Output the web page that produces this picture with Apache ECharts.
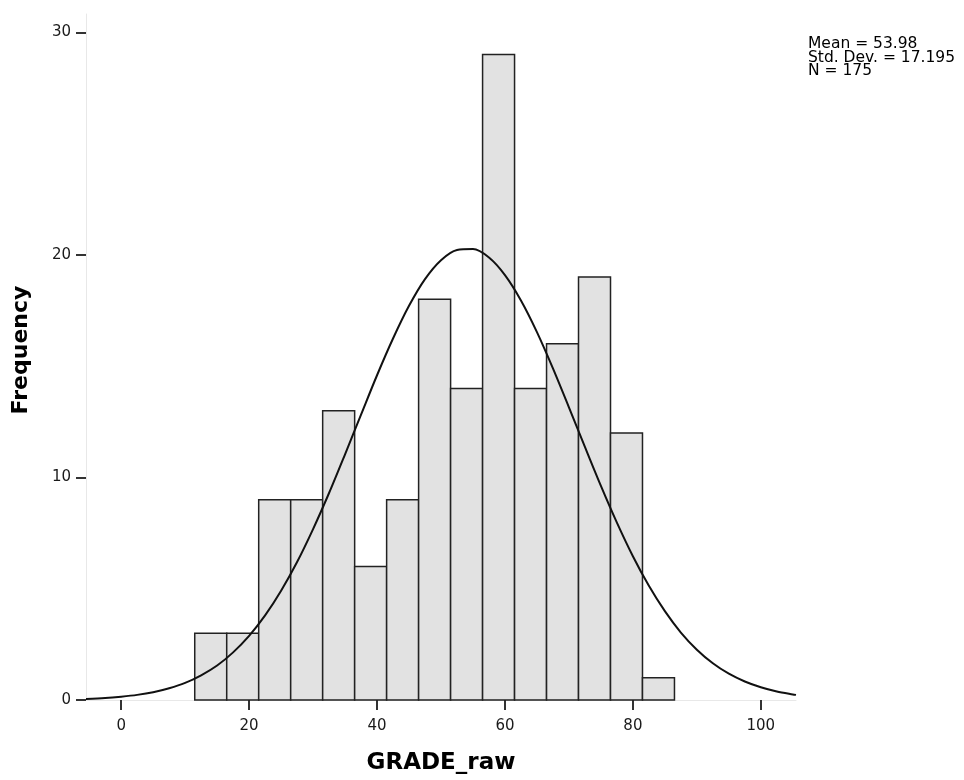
<!DOCTYPE html>
<html>
<head>
<meta charset="utf-8">
<script src="https://cdn.jsdelivr.net/npm/echarts@6/dist/echarts.min.js"></script>
<style>html,body{margin:0;padding:0;background:#fff;}#chart{width:964px;height:780px;}</style>
</head>
<body>
<div id="chart"></div>
<script>
// Histogram bin edges (GRADE_raw) and frequencies
const binEdges = [11.5, 16.5, 21.5, 26.5, 31.5, 36.5, 41.5, 46.5, 51.5, 56.5, 61.5, 66.5, 71.5, 76.5, 81.5, 86.5];
const counts   = [3, 3, 9, 9, 13, 6, 9, 18, 14, 29, 14, 16, 19, 12, 1];

// Normal curve points
const curveX = [-5.5, -2.5, 0, 2.5, 5, 7.5, 10, 12.5, 15, 17.5, 20, 22.5, 25, 27.5, 30, 32.5, 35, 37.5, 40, 42.5, 45, 47.5, 50, 52.5,
                55, 57.5, 60, 62.5, 65, 67.5, 70, 72.5, 75, 77.5, 80, 82.5, 85, 87.5, 90, 92.5, 95, 97.5, 100, 102.5, 105, 105.5];
const curveY = [0.05, 0.09, 0.15, 0.23, 0.35, 0.53, 0.77, 1.11, 1.55, 2.14, 2.88, 3.80, 4.91, 6.20, 7.68, 9.30, 11.04, 12.82, 14.59, 16.24, 17.71, 18.91, 19.76, 20.22,
                20.26, 19.88, 19.09, 17.95, 16.53, 14.90, 13.15, 11.37, 9.62, 7.97, 6.46, 5.13, 3.99, 3.03, 2.26, 1.65, 1.18, 0.83, 0.57, 0.38, 0.25, 0.23];

// Axis ticks
const xTicks = [0, 20, 40, 60, 80, 100];
const yTicks = [0, 10, 20, 30];

// Summary statistics
const statLines = ['Mean = 53.98', 'Std. Dev. = 17.195', 'N = 175'];

const xTitle = 'GRADE_raw';
const yTitle = 'Frequency';

const barData = counts.map((c, i) => [binEdges[i], binEdges[i + 1], c]);
const curveData = curveX.map((x, i) => [x, curveY[i]]);

const FONT = '"DejaVu Sans", sans-serif';

const chart = echarts.init(document.getElementById('chart'), null, {renderer: 'canvas'});
chart.setOption({
  animation: false,
  backgroundColor: '#ffffff',
  grid: {left: 86, right: 168, top: 14, bottom: 79, containLabel: false},
  xAxis: {
    type: 'value',
    min: -5.5,
    max: 105.5,
    name: xTitle,
    nameLocation: 'middle',
    nameGap: 52,
    nameTextStyle: {fontFamily: FONT, fontSize: 23, fontWeight: 'bold', color: '#000'},
    axisLine: {show: true, onZero: false, lineStyle: {color: '#e8e8e8', width: 1}},
    axisTick: {show: true, customValues: xTicks, length: 10, inside: false, lineStyle: {color: '#333', width: 2}},
    axisLabel: {customValues: xTicks, margin: 19, fontFamily: FONT, fontSize: 15, color: '#1a1a1a'},
    splitLine: {show: false}
  },
  yAxis: {
    type: 'value',
    min: 0,
    max: 30.82,
    name: yTitle,
    nameLocation: 'middle',
    nameGap: 54,
    nameRotate: 90,
    nameTextStyle: {fontFamily: FONT, fontSize: 22, fontWeight: 'bold', color: '#000', padding: [0, 0, 0, 14]},
    axisLine: {show: true, onZero: false, lineStyle: {color: '#e8e8e8', width: 1}},
    axisTick: {show: true, customValues: yTicks, length: 10, lineStyle: {color: '#333', width: 2}},
    axisLabel: {customValues: yTicks, margin: 15, fontFamily: FONT, fontSize: 15, color: '#1a1a1a'},
    splitLine: {show: false}
  },
  series: [
    {
      type: 'custom',
      data: barData,
      encode: {x: [0, 1], y: 2},
      renderItem: function (params, api) {
        const p0 = api.coord([api.value(0), 0]);
        const p1 = api.coord([api.value(1), api.value(2)]);
        return {
          type: 'rect',
          shape: {x: p0[0], y: p1[1], width: p1[0] - p0[0], height: p0[1] - p1[1]},
          style: {fill: '#e2e2e2', stroke: '#222', lineWidth: 1.5}
        };
      },
      z: 2
    },
    {
      type: 'line',
      data: curveData,
      smooth: 0.3,
      showSymbol: false,
      symbol: 'none',
      lineStyle: {color: '#111', width: 2},
      clip: true,
      z: 3
    }
  ],
  graphic: [
    {
      type: 'text',
      left: 808,
      top: 36,
      style: {
        text: statLines.join('\n'),
        font: '15.5px ' + FONT,
        lineHeight: 13.5,
        fill: '#000'
      }
    }
  ]
});
</script>
</body>
</html>
